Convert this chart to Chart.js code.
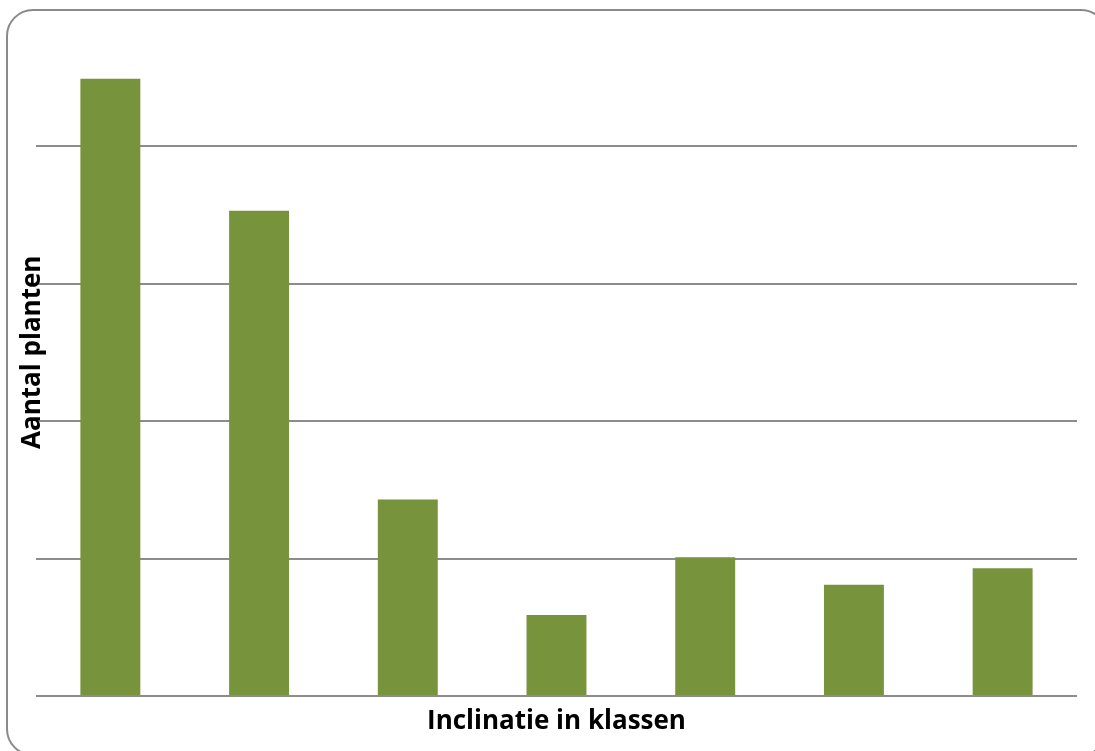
<!DOCTYPE html>
<html>
<head>
<meta charset="utf-8">
<script src="https://cdn.jsdelivr.net/npm/chart.js@4"></script>
<style>
  html,body{margin:0;padding:0;background:#fff;}
  #wrap{width:1095px;height:751px;}
</style>
</head>
<body>
<div id="wrap"><canvas id="myChart" width="1095" height="751"></canvas></div>
<script>
// classes on the x axis (labels are not shown in the figure)
var klassen = ["1","2","3","4","5","6","7"];
// number of plants per class (arbitrary units)
var aantal = [44.9, 35.3, 14.3, 5.9, 10.1, 8.1, 9.3];
var gridstep = 10;
var ymax = 50;

const barColor = "#77933c";
const gridColor = "#8c8c8c";

// rounded frame around the whole chart
var framePlugin = {
  id: "frame",
  beforeDraw: function(chart){
    const c = chart.ctx;
    c.save();
    c.fillStyle = "#ffffff";
    c.fillRect(0, 0, chart.width, chart.height);
    c.strokeStyle = "#8a8a8a";
    c.lineWidth = 2;
    c.beginPath();
    c.roundRect(7, 10, 1100, 745, 26);
    c.stroke();
    c.restore();
  }
};

function init_graph(){
  const ctx = document.getElementById("myChart");
  new Chart(ctx, {
    type: "bar",
    data: {
      labels: klassen,
      datasets: [{
        label: "Aantal planten",
        data: aantal,
        backgroundColor: barColor,
        borderWidth: 0,
        barPercentage: 0.403,
        categoryPercentage: 1.0
      }]
    },
    options: {
      responsive: false,
      animation: false,
      devicePixelRatio: 1,
      layout: { padding: { left: 8, right: 18, top: 8.5, bottom: 13.8 } },
      plugins: {
        legend: { display: false },
        tooltip: { enabled: false }
      },
      scales: {
        x: {
          grid: { display: false, drawTicks: false },
          border: { display: false },
          ticks: { display: false },
          title: {
            display: true,
            text: "Inclinatie in klassen",
            color: "#000",
            font: { family: "Open Sans", size: 26, weight: "bold", lineHeight: 1.2 },
            padding: { top: 10, bottom: 0 }
          }
        },
        y: {
          min: 0,
          max: ymax,
          ticks: { display: false, stepSize: gridstep },
          border: { display: false },
          grid: {
            drawTicks: false,
            lineWidth: 2,
            color: function(c){
              // top line of the plot area is not drawn in the figure
              if (!c.tick || c.tick.value >= ymax) return "rgba(0,0,0,0)";
              return gridColor;
            }
          },
          title: {
            display: true,
            text: "Aantal planten",
            color: "#000",
            font: { family: "Open Sans", size: 26, weight: "bold", lineHeight: 1.0 },
            padding: { top: 12, bottom: -10 }
          }
        }
      }
    },
    plugins: [framePlugin]
  });
}

init_graph();
</script>
</body>
</html>
